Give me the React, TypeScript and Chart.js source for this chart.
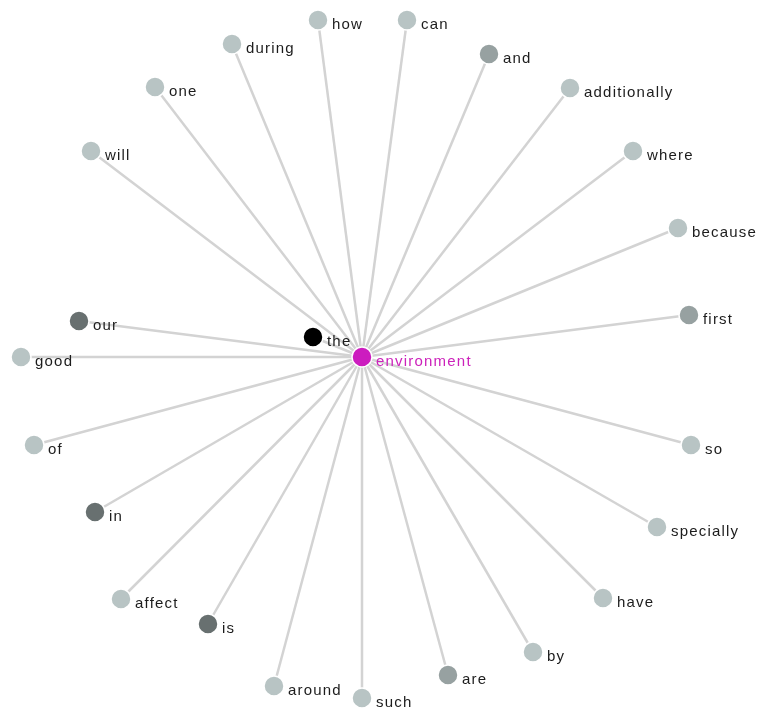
import React, { useEffect, useRef } from "react";
import { Chart, registerables } from "chart.js";

Chart.register(...registerables);

const words = [
  "how", "can", "during", "and", "one", "additionally", "will", "where", "because", "first",
  "our", "the", "good", "of", "so", "in", "specially", "affect", "have", "is", "by", "are",
  "around", "such", "environment",
];
const nodeX = [
  318, 407, 232, 489, 155, 570, 91, 633, 678, 689,
  79, 313, 21, 34, 691, 95, 657, 121, 603, 208, 533, 448,
  274, 362, 362,
];
const nodeY = [
  20, 20, 44, 54, 87, 88, 151, 151, 228, 315,
  321, 337, 357, 445, 445, 512, 527, 599, 598, 624, 652, 675,
  686, 698, 357,
];
// group: 0 light, 1 medium, 2 dark, 3 black, 4 hub
const groups = [
  0, 0, 0, 1, 0, 0, 0, 0, 0, 1,
  2, 3, 0, 0, 0, 2, 0, 0, 0, 2, 0, 1,
  0, 0, 4,
];
const hub = "environment";

const groupColors = ["#b8c4c4", "#97a1a1", "#687070", "#000000", "#cc1cbf"];
const labelColors = ["#1c1c1c", "#1c1c1c", "#1c1c1c", "#1c1c1c", "#cc22bb"];

export default function App() {
  const ref = useRef<HTMLCanvasElement>(null);
  useEffect(() => {
    const canvas = ref.current!;
    const hubIdx = words.indexOf(hub);
    const nodes = words.map((w, i) => ({ x: nodeX[i], y: nodeY[i] }));
    const edgeSets = words
      .map((w, i) => i)
      .filter((i) => i !== hubIdx)
      .map((i) => ({
        type: "line" as const,
        data: [nodes[hubIdx], nodes[i]],
        borderColor: "#d3d3d3",
        borderWidth: 2.5,
        pointRadius: 0,
        pointHoverRadius: 0,
        showLine: true,
        fill: false,
        order: 2,
      }));

    const labelPlugin = {
      id: "nodeLabels",
      afterDatasetsDraw(chart: any) {
        const ctx = chart.ctx;
        const di = chart.data.datasets.length - 1;
        const meta = chart.getDatasetMeta(di);
        ctx.save();
        ctx.font = '15px "Liberation Sans", Arial, sans-serif';
        try { (ctx as any).letterSpacing = "1.2px"; } catch (e) {}
        ctx.textBaseline = "middle";
        ctx.textAlign = "left";
        meta.data.forEach((pt: any, i: number) => {
          ctx.fillStyle = labelColors[groups[i]];
          ctx.fillText(words[i], pt.x + 14, pt.y + 5);
        });
        ctx.restore();
      },
    };

    const chart = new Chart(canvas, {
      type: "scatter",
      data: {
        datasets: [
          ...edgeSets,
          {
            type: "scatter" as const,
            data: nodes,
            pointRadius: 10,
            pointHoverRadius: 10,
            pointBackgroundColor: groups.map((g) => groupColors[g]),
            pointBorderColor: "#ffffff",
            pointBorderWidth: 1.5,
            order: 1,
          },
        ],
      } as any,
      options: {
        animation: false,
        responsive: false,
        layout: { padding: 0, autoPadding: false },
        plugins: { legend: { display: false }, tooltip: { enabled: false } },
        scales: {
          x: { type: "linear", min: 0, max: 761, display: false },
          y: { type: "linear", min: 0, max: 713, reverse: true, display: false },
        },
      },
      plugins: [labelPlugin],
    });
    return () => chart.destroy();
  }, []);
  return (
    <div style={{ position: "absolute", left: 0, top: 0, width: 761, height: 713, background: "#fff" }}>
      <canvas ref={ref} width={761} height={713} style={{ display: "block" }} />
    </div>
  );
}
